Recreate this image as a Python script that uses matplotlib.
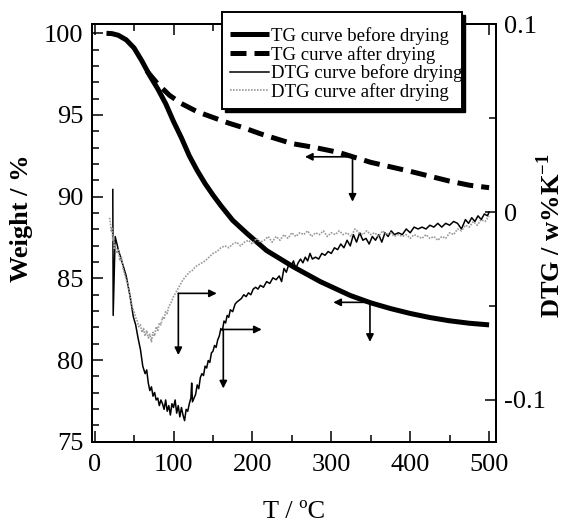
import matplotlib
matplotlib.use('Agg')
import matplotlib.pyplot as plt
from matplotlib.ticker import MultipleLocator
from matplotlib.patches import Rectangle

plt.rcParams['font.family'] = ['Liberation Serif', 'DejaVu Serif']
plt.rcParams['mathtext.fontset'] = 'custom'
plt.rcParams['mathtext.rm'] = 'Liberation Serif'
plt.rcParams['mathtext.bf'] = 'Liberation Serif:bold'
plt.rcParams['axes.unicode_minus'] = False

# TG curve before drying (weight %)
tg_before_T = [15, 22, 30, 40, 50, 60, 70, 80, 90, 100, 110, 120, 130, 140, 150, 160,
               175, 193, 218, 252, 286, 324, 350, 375, 400, 425, 450, 475, 500]
tg_before_W = [100, 99.98, 99.88, 99.6, 99.1, 98.3, 97.4, 96.6, 95.7, 94.6, 93.6,
               92.5, 91.6, 90.8, 90.1, 89.45, 88.55, 87.75, 86.7, 85.7, 84.8, 83.95,
               83.5, 83.15, 82.85, 82.6, 82.4, 82.25, 82.15]

# TG curve after drying
tg_after_T = [66, 80, 95, 110, 130, 150, 170, 190, 210, 250, 280, 310, 350, 400,
              450, 475, 500]
tg_after_W = [97.7, 96.9, 96.2, 95.7, 95.2, 94.85, 94.5, 94.2, 93.85, 93.25, 93.0,
              92.7, 92.1, 91.55, 90.95, 90.7, 90.55]

# DTG curve before drying (w%/K)
dtg_before_T = [23, 23.5, 26, 30, 35, 40, 45, 49, 52, 55, 58, 61, 64, 66, 68, 70, 72,
                74, 76, 78, 80, 82, 84, 86, 88, 90, 92, 94, 96, 98, 100, 102, 104,
                106, 108, 110, 112, 114, 116, 118, 120, 122, 123, 124, 126, 128, 130,
                132, 134, 136, 138, 140, 142, 144, 146, 148, 150, 152, 154, 156, 158,
                160, 162, 164, 166, 168, 170, 172, 175, 178, 180, 183, 186, 189, 192,
                195, 198, 201, 204, 207, 210, 214, 218, 222, 226, 230, 234, 237, 240,
                243, 246, 249, 252, 255, 258, 261, 264, 267, 270, 273, 276, 280, 284,
                288, 292, 296, 300, 304, 308, 312, 316, 320, 324, 328, 332, 336, 340,
                344, 348, 352, 356, 360, 364, 368, 372, 376, 380, 385, 390, 395, 400,
                405, 410, 415, 420, 425, 430, 435, 440, 445, 450, 455, 460, 465, 470,
                474, 478, 482, 486, 490, 494, 498, 500]
dtg_before_D = [0.012, -0.055, -0.013, -0.020, -0.027, -0.034, -0.045, -0.0557, -0.060,
                -0.067, -0.073, -0.082, -0.086, -0.084, -0.091, -0.095, -0.093, -0.098,
                -0.096, -0.100, -0.099, -0.103, -0.100, -0.102, -0.105, -0.100, -0.106,
                -0.103, -0.108, -0.102, -0.104, -0.100, -0.107, -0.103, -0.109, -0.104,
                -0.108, -0.111, -0.105, -0.106, -0.102, -0.099, -0.091, -0.101, -0.099,
                -0.097, -0.092, -0.094, -0.088, -0.086, -0.087, -0.082, -0.083, -0.079,
                -0.080, -0.075, -0.074, -0.071, -0.072, -0.068, -0.066, -0.062, -0.063,
                -0.058, -0.059, -0.055, -0.056, -0.052, -0.053, -0.049, -0.048, -0.047,
                -0.046, -0.044, -0.045, -0.043, -0.044, -0.041, -0.040, -0.041, -0.039,
                -0.040, -0.037, -0.038, -0.035, -0.036, -0.034, -0.037, -0.030, -0.032,
                -0.028, -0.029, -0.026, -0.030, -0.027, -0.025, -0.027, -0.024, -0.026,
                -0.022, -0.025, -0.024, -0.025, -0.022, -0.023, -0.021, -0.022, -0.019,
                -0.020, -0.017, -0.019, -0.015, -0.018, -0.012, -0.016, -0.011, -0.015,
                -0.014, -0.017, -0.013, -0.015, -0.012, -0.016, -0.011, -0.013, -0.010,
                -0.012, -0.011, -0.012, -0.009, -0.011, -0.008, -0.009, -0.008, -0.009,
                -0.007, -0.008, -0.006, -0.008, -0.006, -0.007, -0.005, -0.006, -0.009,
                -0.004, -0.006, -0.003, -0.005, -0.002, -0.004, -0.001, -0.002, 0.000]

# DTG curve after drying
dtg_after_T = [19, 20, 21, 22, 23, 24, 25, 26, 28, 30, 32, 34, 36, 38, 40, 42, 44, 46,
               48, 50, 52, 54, 56, 58, 60, 62, 64, 66, 68, 70, 72, 74, 76, 78, 80, 82,
               84, 86, 88, 90, 92, 94, 96, 98, 100, 104, 108, 112, 116, 120, 124, 128,
               132, 136, 140, 145, 150, 155, 160, 165, 170, 175, 180, 185, 190, 195,
               200, 205, 210, 215, 220, 225, 230, 235, 240, 245, 250, 255, 260, 265,
               270, 275, 280, 285, 290, 295, 300, 305, 310, 315, 320, 325, 330, 335,
               340, 345, 350, 355, 360, 365, 370, 375, 380, 385, 390, 395, 400, 405,
               410, 415, 420, 425, 430, 435, 440, 445, 450, 455, 460, 465, 470, 475,
               480, 485, 490, 495, 500]
dtg_after_D = [-0.003, -0.006, -0.010, -0.008, -0.015, -0.013, -0.020, -0.017, -0.022,
               -0.020, -0.026, -0.024, -0.030, -0.033, -0.036, -0.038, -0.043, -0.047,
               -0.051, -0.053, -0.056, -0.058, -0.061, -0.060, -0.064, -0.062, -0.066,
               -0.063, -0.067, -0.065, -0.069, -0.064, -0.066, -0.061, -0.063, -0.059,
               -0.060, -0.056, -0.057, -0.053, -0.054, -0.050, -0.049, -0.047, -0.045,
               -0.042, -0.039, -0.036, -0.034, -0.032, -0.031, -0.029, -0.028, -0.027,
               -0.026, -0.024, -0.022, -0.021, -0.019, -0.018, -0.019, -0.017, -0.016,
               -0.018, -0.016, -0.015, -0.017, -0.014, -0.016, -0.015, -0.013, -0.016,
               -0.013, -0.015, -0.012, -0.014, -0.011, -0.013, -0.011, -0.012, -0.010,
               -0.013, -0.011, -0.012, -0.010, -0.013, -0.011, -0.012, -0.010, -0.012,
               -0.011, -0.013, -0.009, -0.011, -0.012, -0.010, -0.012, -0.011, -0.013,
               -0.010, -0.012, -0.011, -0.013, -0.012, -0.013, -0.012, -0.014, -0.012,
               -0.013, -0.014, -0.012, -0.014, -0.013, -0.015, -0.013, -0.014, -0.011,
               -0.012, -0.009, -0.010, -0.007, -0.008, -0.005, -0.007, -0.004, -0.005,
               -0.002]

labels = ['TG curve before drying', 'TG curve after drying',
          'DTG curve before drying', 'DTG curve after drying']

W, H = 569, 525
fig = plt.figure(figsize=(W / 100, H / 100), dpi=100)
ax = fig.add_axes([0.1612, 0.1587, 0.7100, 0.7956])
ax2 = ax.twinx()

l1, = ax.plot(tg_before_T, tg_before_W, color='k', lw=3.6, solid_capstyle='butt')
l2, = ax.plot(tg_after_T, tg_after_W, color='k', lw=3.6, dashes=(3.2, 1.6))
l3, = ax2.plot(dtg_before_T, dtg_before_D, color='k', lw=1.1)
l4, = ax2.plot(dtg_after_T, dtg_after_D, color='#9a9a9a', lw=1.2, dashes=(1, 0.8))

ax.set_xlim(-3.7, 508.4)
ax.set_ylim(75, 100.57)
ax2.set_ylim(-0.1222, 0.1001)

ax.xaxis.set_major_locator(MultipleLocator(100))
ax.xaxis.set_minor_locator(MultipleLocator(50))
ax.yaxis.set_major_locator(MultipleLocator(5))
ax.yaxis.set_minor_locator(MultipleLocator(1))
ax2.set_yticks([-0.1, 0, 0.1], labels=['-0.1', '0', '0.1'])
ax2.yaxis.set_minor_locator(MultipleLocator(0.05))

ax.tick_params(which='both', direction='in', top=True, right=False, width=1.1,
               labelsize=19, pad=6)
ax.tick_params(axis='x', which='both', pad=9)
ax.tick_params(which='major', length=8)
ax.tick_params(which='minor', length=5)
ax2.tick_params(which='both', direction='in', width=1.1, labelsize=19, pad=6)
ax2.tick_params(which='major', length=8)
ax2.tick_params(which='minor', length=5)
for a in (ax, ax2):
    for s in a.spines.values():
        s.set_linewidth(1.4)

ax.set_xlabel('T / ºC', fontsize=19)
ax.xaxis.set_label_coords(0.5, -0.143)
ax.set_ylabel('Weight / %', fontsize=19, fontweight='bold')
ax.yaxis.set_label_coords(-0.145, 0.5356)
ax2.set_ylabel(r'DTG / w%K$^{\mathbf{-1}}$', fontsize=19, fontweight='bold')
ax2.yaxis.set_label_coords(1.1, 0.4925)

# arrows: (corner, horizontal end, vertical end) in T / weight coordinates
arrows = [((326.9, 92.44), (266.6, 92.44), (326.9, 89.69)),
          ((349.0, 83.53), (302.5, 83.53), (349.0, 81.11)),
          ((106.1, 84.08), (154.8, 84.08), (106.1, 80.3)),
          ((163.1, 81.87), (211.8, 81.87), (163.1, 78.26))]
for corner, hend, vend in arrows:
    for end in (hend, vend):
        ax2.annotate('', xy=end, xytext=corner, xycoords=ax.transData,
                     textcoords=ax.transData,
                     arrowprops=dict(arrowstyle='-|>', color='k', lw=1.2,
                                     mutation_scale=11, shrinkA=0, shrinkB=0))

# legend box with a black drop shadow, drawn over the top spine
bx0, by0, bx1, by1 = 222, 12, 462, 109
fig.add_artist(Rectangle(((bx0 + 3) / W, 1 - (by1 + 3) / H), (bx1 - bx0) / W,
                         (by1 - by0) / H, transform=fig.transFigure,
                         facecolor='k', edgecolor='k', zorder=3))
fig.add_artist(Rectangle((bx0 / W, 1 - by1 / H), (bx1 - bx0) / W, (by1 - by0) / H,
                         transform=fig.transFigure, facecolor='white',
                         edgecolor='k', lw=1.4, zorder=3.5))
leg = fig.legend([l1, l2, l3, l4], labels, loc='upper left',
                 bbox_to_anchor=(230 / W, 1 - 27 / H), fontsize=13.5, frameon=False,
                 handlelength=2.1, handletextpad=0.08, labelspacing=0.04,
                 borderpad=0, borderaxespad=0)
leg.set_zorder(4)

fig.savefig('out.png', dpi=100)
